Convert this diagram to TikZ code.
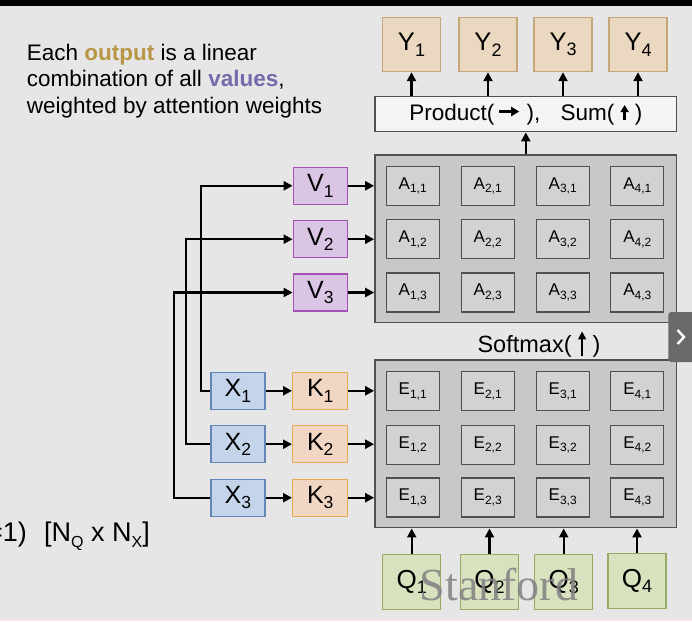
\documentclass[tikz,border=0pt]{standalone}
\usepackage{fontspec}
\setmainfont{Liberation Sans}
\newfontfamily\wmfont{Liberation Serif}
\usetikzlibrary{arrows.meta}
\definecolor{bgc}{RGB}{230,230,230}
\definecolor{yfill}{RGB}{234,216,192}
\definecolor{ydraw}{RGB}{196,166,120}
\definecolor{vfill}{RGB}{218,198,228}
\definecolor{vdraw}{RGB}{165,80,180}
\definecolor{xfill}{RGB}{196,212,234}
\definecolor{xdraw}{RGB}{100,135,185}
\definecolor{kfill}{RGB}{242,214,196}
\definecolor{kdraw}{RGB}{232,170,80}
\definecolor{qfill}{RGB}{216,226,190}
\definecolor{qdraw}{RGB}{150,170,100}
\definecolor{panelfill}{RGB}{200,200,200}
\definecolor{cellfill}{RGB}{210,210,210}
\definecolor{framec}{RGB}{80,80,80}
\definecolor{prodfill}{RGB}{244,244,244}
\definecolor{outc}{RGB}{185,150,70}
\definecolor{valc}{RGB}{120,105,170}
\definecolor{tabc}{RGB}{105,105,105}
\newcommand\lbl[4]{{\fontsize{#3}{#3}\selectfont #1\raisebox{-0.22em}{\fontsize{#4}{#4}\selectfont #2}}}
\newcommand\rarrowicon{\tikz[baseline=0pt]\draw[line width=2.3pt,-{Triangle[length=8pt,width=9pt]}] (0pt,8.5pt) -- (20pt,8.5pt);}
\newcommand\uarrowicon{\tikz[baseline=0pt]\draw[line width=2.3pt,-{Triangle[length=7pt,width=8pt]}] (0pt,0pt) -- (0pt,15pt);}
\newcommand\sarrowicon{\tikz[baseline=0pt]\draw[line width=1.6pt,-{Triangle[length=8pt,width=8pt]}] (0pt,-4pt) -- (0pt,21pt);}
\begin{document}
\begin{tikzpicture}[x=1pt,y=-1pt,
  box/.style={draw, line width=1.4pt, inner sep=0pt, align=center},
  ybox/.style={box, fill=yfill, draw=ydraw, minimum width=58pt, minimum height=54pt},
  qbox/.style={box, fill=qfill, draw=qdraw, minimum width=58pt, minimum height=55pt},
  vbox/.style={box, fill=vfill, draw=vdraw, minimum width=54pt, minimum height=37pt},
  xbox/.style={box, fill=xfill, draw=xdraw, minimum width=54pt, minimum height=37pt},
  kbox/.style={box, fill=kfill, draw=kdraw, minimum width=55pt, minimum height=37pt},
  cell/.style={box, fill=cellfill, draw=framec, line width=1.3pt, minimum width=53pt, minimum height=39pt},
  panel/.style={box, fill=panelfill, draw=framec, line width=1.6pt, minimum width=301.7pt, minimum height=167.7pt},
  prodbox/.style={box, fill=prodfill, draw=framec, line width=1.3pt, minimum width=301.7pt, minimum height=35pt},
  arr/.style={line width=2.4pt, -{Triangle[length=9pt,width=9pt]}},
  txt/.style={inner sep=0pt, anchor=base west, font=\fontsize{22.5}{26}\selectfont}
]
\useasboundingbox (0,0) rectangle (692,621);
\clip (0,0) rectangle (692,621);
\fill[bgc] (0,0) rectangle (692,621);
\fill[black] (0,0) rectangle (692,6);
\fill[white!90!red] (0,619.3) rectangle (692,621);

% caption
\node[txt] (cap1) at (26.7,60) {Each \textcolor{outc}{\textbf{output}} is a linear};
\node[txt] (cap2) at (26.7,86.5) {combination of all \textcolor{valc}{\textbf{values}},};
\node[txt] (cap3) at (26.7,113) {weighted by attention weights};

% bottom-left text
\node[inner sep=0pt, anchor=base east, font=\fontsize{27}{27}\selectfont] (eq) at (27,541.7) {=1)};
\node[inner sep=0pt, anchor=base west, font=\fontsize{27}{27}\selectfont] (dims) at (44,541.7)
  {[N\raisebox{-0.22em}{\fontsize{16}{16}\selectfont Q} x N\raisebox{-0.22em}{\fontsize{16}{16}\selectfont X}]};

% outputs
\node[ybox] (y1) at (411.5,44.5) {\lbl{Y}{1}{25.5}{18}};
\node[ybox] (y2) at (488,44.5) {\lbl{Y}{2}{25.5}{18}};
\node[ybox] (y3) at (563,44.5) {\lbl{Y}{3}{25.5}{18}};
\node[ybox] (y4) at (638,44.5) {\lbl{Y}{4}{25.5}{18}};

% product box
\node[prodbox, font=\fontsize{22.5}{22.5}\selectfont] (prod) at (525.8,114.2)
  {Product(\,\rarrowicon\ ),\hspace{0.9em}Sum(\ \uarrowicon\ )};

% panels
\node[panel] (A) at (525.8,238.8) {};
\node[panel] (E) at (525.8,443.8) {};

\node[inner sep=0pt, font=\fontsize{23.5}{23.5}\selectfont] (soft) at (539,344) {Softmax(\ \sarrowicon\ )};

% cells
\foreach \c/\cx in {1/412.7,2/487.7,3/562.7,4/637.3}{
  \foreach \r/\ay/\ey in {1/186/391.2,2/239.2/444.8,3/292.5/497.5}{
    \node[cell] (a\c\r) at (\cx,\ay) {\lbl{A}{\c,\r}{17}{12}};
    \node[cell] (e\c\r) at (\cx,\ey) {\lbl{E}{\c,\r}{17}{12}};
  }
}

% queries
\node[qbox] (q1) at (411.7,582) {\lbl{Q}{1}{26}{18}};
\node[qbox] (q2) at (489.5,582) {\lbl{Q}{2}{26}{18}};
\node[qbox] (q3) at (563.7,582) {\lbl{Q}{3}{26}{18}};
\node[qbox] (q4) at (637,581) {\lbl{Q}{4}{26}{18}};

% values, inputs, keys
\node[vbox] (v1) at (320.3,185.8) {\lbl{V}{1}{25}{17.5}};
\node[vbox] (v2) at (320.3,239.2) {\lbl{V}{2}{25}{17.5}};
\node[vbox] (v3) at (320.3,292.5) {\lbl{V}{3}{25}{17.5}};
\node[xbox] (x1) at (237.8,390.8) {\lbl{X}{1}{25}{17.5}};
\node[xbox] (x2) at (237.8,444.2) {\lbl{X}{2}{25}{17.5}};
\node[xbox] (x3) at (237.8,497.7) {\lbl{X}{3}{25}{17.5}};
\node[kbox] (k1) at (320.2,390.8) {\lbl{K}{1}{25}{17.5}};
\node[kbox] (k2) at (320.2,444.2) {\lbl{K}{2}{25}{17.5}};
\node[kbox] (k3) at (320.2,497.7) {\lbl{K}{3}{25}{17.5}};

% bus coordinates
\coordinate (b1) at (200.7,0);
\coordinate (b2) at (186,0);
\coordinate (b3) at (174,0);

% X -> V wires
\draw[arr] (x1.west) -- (x1.west -| b1) -- (v1.west -| b1) -- (v1.west);
\draw[arr] (x2.west) -- (x2.west -| b2) -- (v2.west -| b2) -- (v2.west);
\draw[arr] (x3.west) -- (x3.west -| b3) -- (v3.west -| b3) -- (v3.west);

% X -> K, K -> E, V -> A
\foreach \i in {1,2,3}{
  \draw[arr] (x\i.east) -- (k\i.west);
  \draw[arr] (k\i.east) -- (k\i.east -| E.west);
  \draw[arr] (v\i.east) -- (v\i.east -| A.west);
}

% Q -> E, product -> Y
\foreach \i in {1,2,3,4}{
  \draw[arr] (q\i.north) -- (q\i.north |- E.south);
  \draw[arr] (y\i.south |- prod.north) -- (y\i.south);
}
\draw[arr] (A.north) -- (prod.south);

% watermark
\node[text=black!50, opacity=0.85, font=\wmfont\fontsize{46}{46}\selectfont, inner sep=0pt] (wm) at (499,585) {Stanford};

% side tab
\fill[tabc, rounded corners=3pt] (668.3,312) rectangle (700,362);
\draw[white, line width=2.4pt] (677.5,330) -- (684,337) -- (677.5,344);
\end{tikzpicture}
\end{document}
